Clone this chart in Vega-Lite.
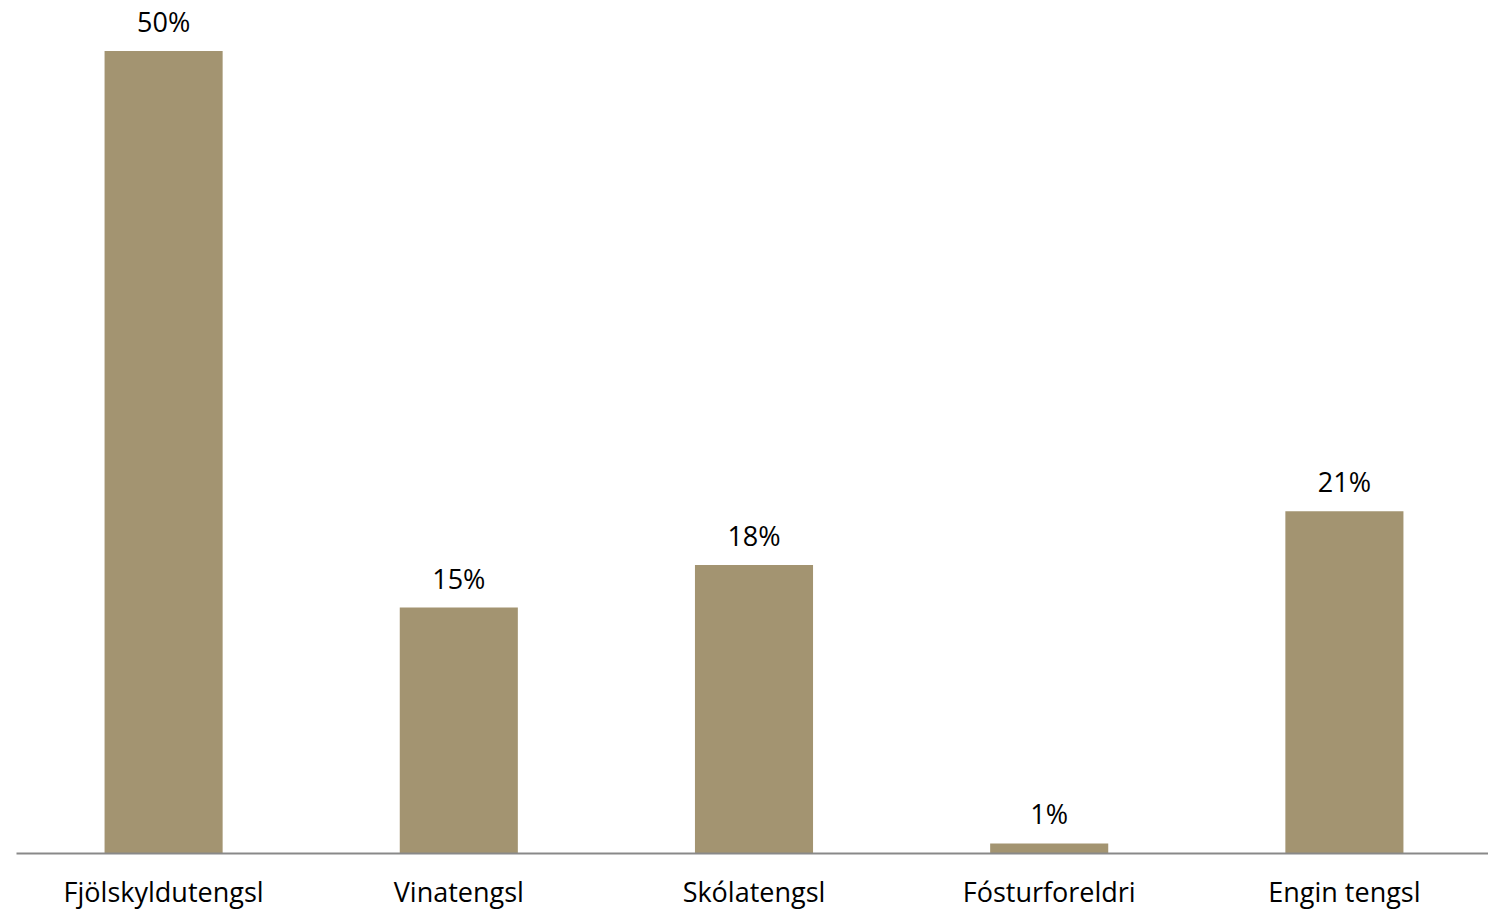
{
  "$schema": "https://vega.github.io/schema/vega-lite/v6.json",
  "width": 1476,
  "height": 802,
  "padding": {"left": 16, "top": 51, "right": 0, "bottom": 62},
  "autosize": {"type": "none"},
  "background": "white",
  "config": {"view": {"stroke": null}, "font": "Open Sans"},
  "data": {"values": [
    {"category": "Fjölskyldutengsl", "value": 50.0, "label": "50%"},
    {"category": "Vinatengsl", "value": 15.3, "label": "15%"},
    {"category": "Skólatengsl", "value": 17.95, "label": "18%"},
    {"category": "Fósturforeldri", "value": 0.6, "label": "1%"},
    {"category": "Engin tengsl", "value": 21.3, "label": "21%"}
  ]},
  "encoding": {
    "x": {"field": "category", "type": "nominal", "sort": null,
      "scale": {"paddingInner": 0.6, "paddingOuter": 0.3},
      "axis": {"title": null, "labelAngle": 0, "labelFontSize": 27, "labelLimit": 0, "labelColor": "#000000", "labelPadding": 27, "labelBaseline": "top", "ticks": false, "domainColor": "#898989", "domainWidth": 2, "domainOpacity": 1, "labelFont": "Open Sans", "zindex": 1}},
    "y": {"field": "value", "type": "quantitative", "scale": {"domain": [0, 50], "nice": false}, "axis": null}
  },
  "layer": [
    {"mark": {"type": "bar", "color": "#A39471"}},
    {"mark": {"type": "text", "baseline": "bottom", "dy": -13, "fontSize": 27, "color": "#000000"},
     "encoding": {"text": {"field": "label"}}}
  ]
}
